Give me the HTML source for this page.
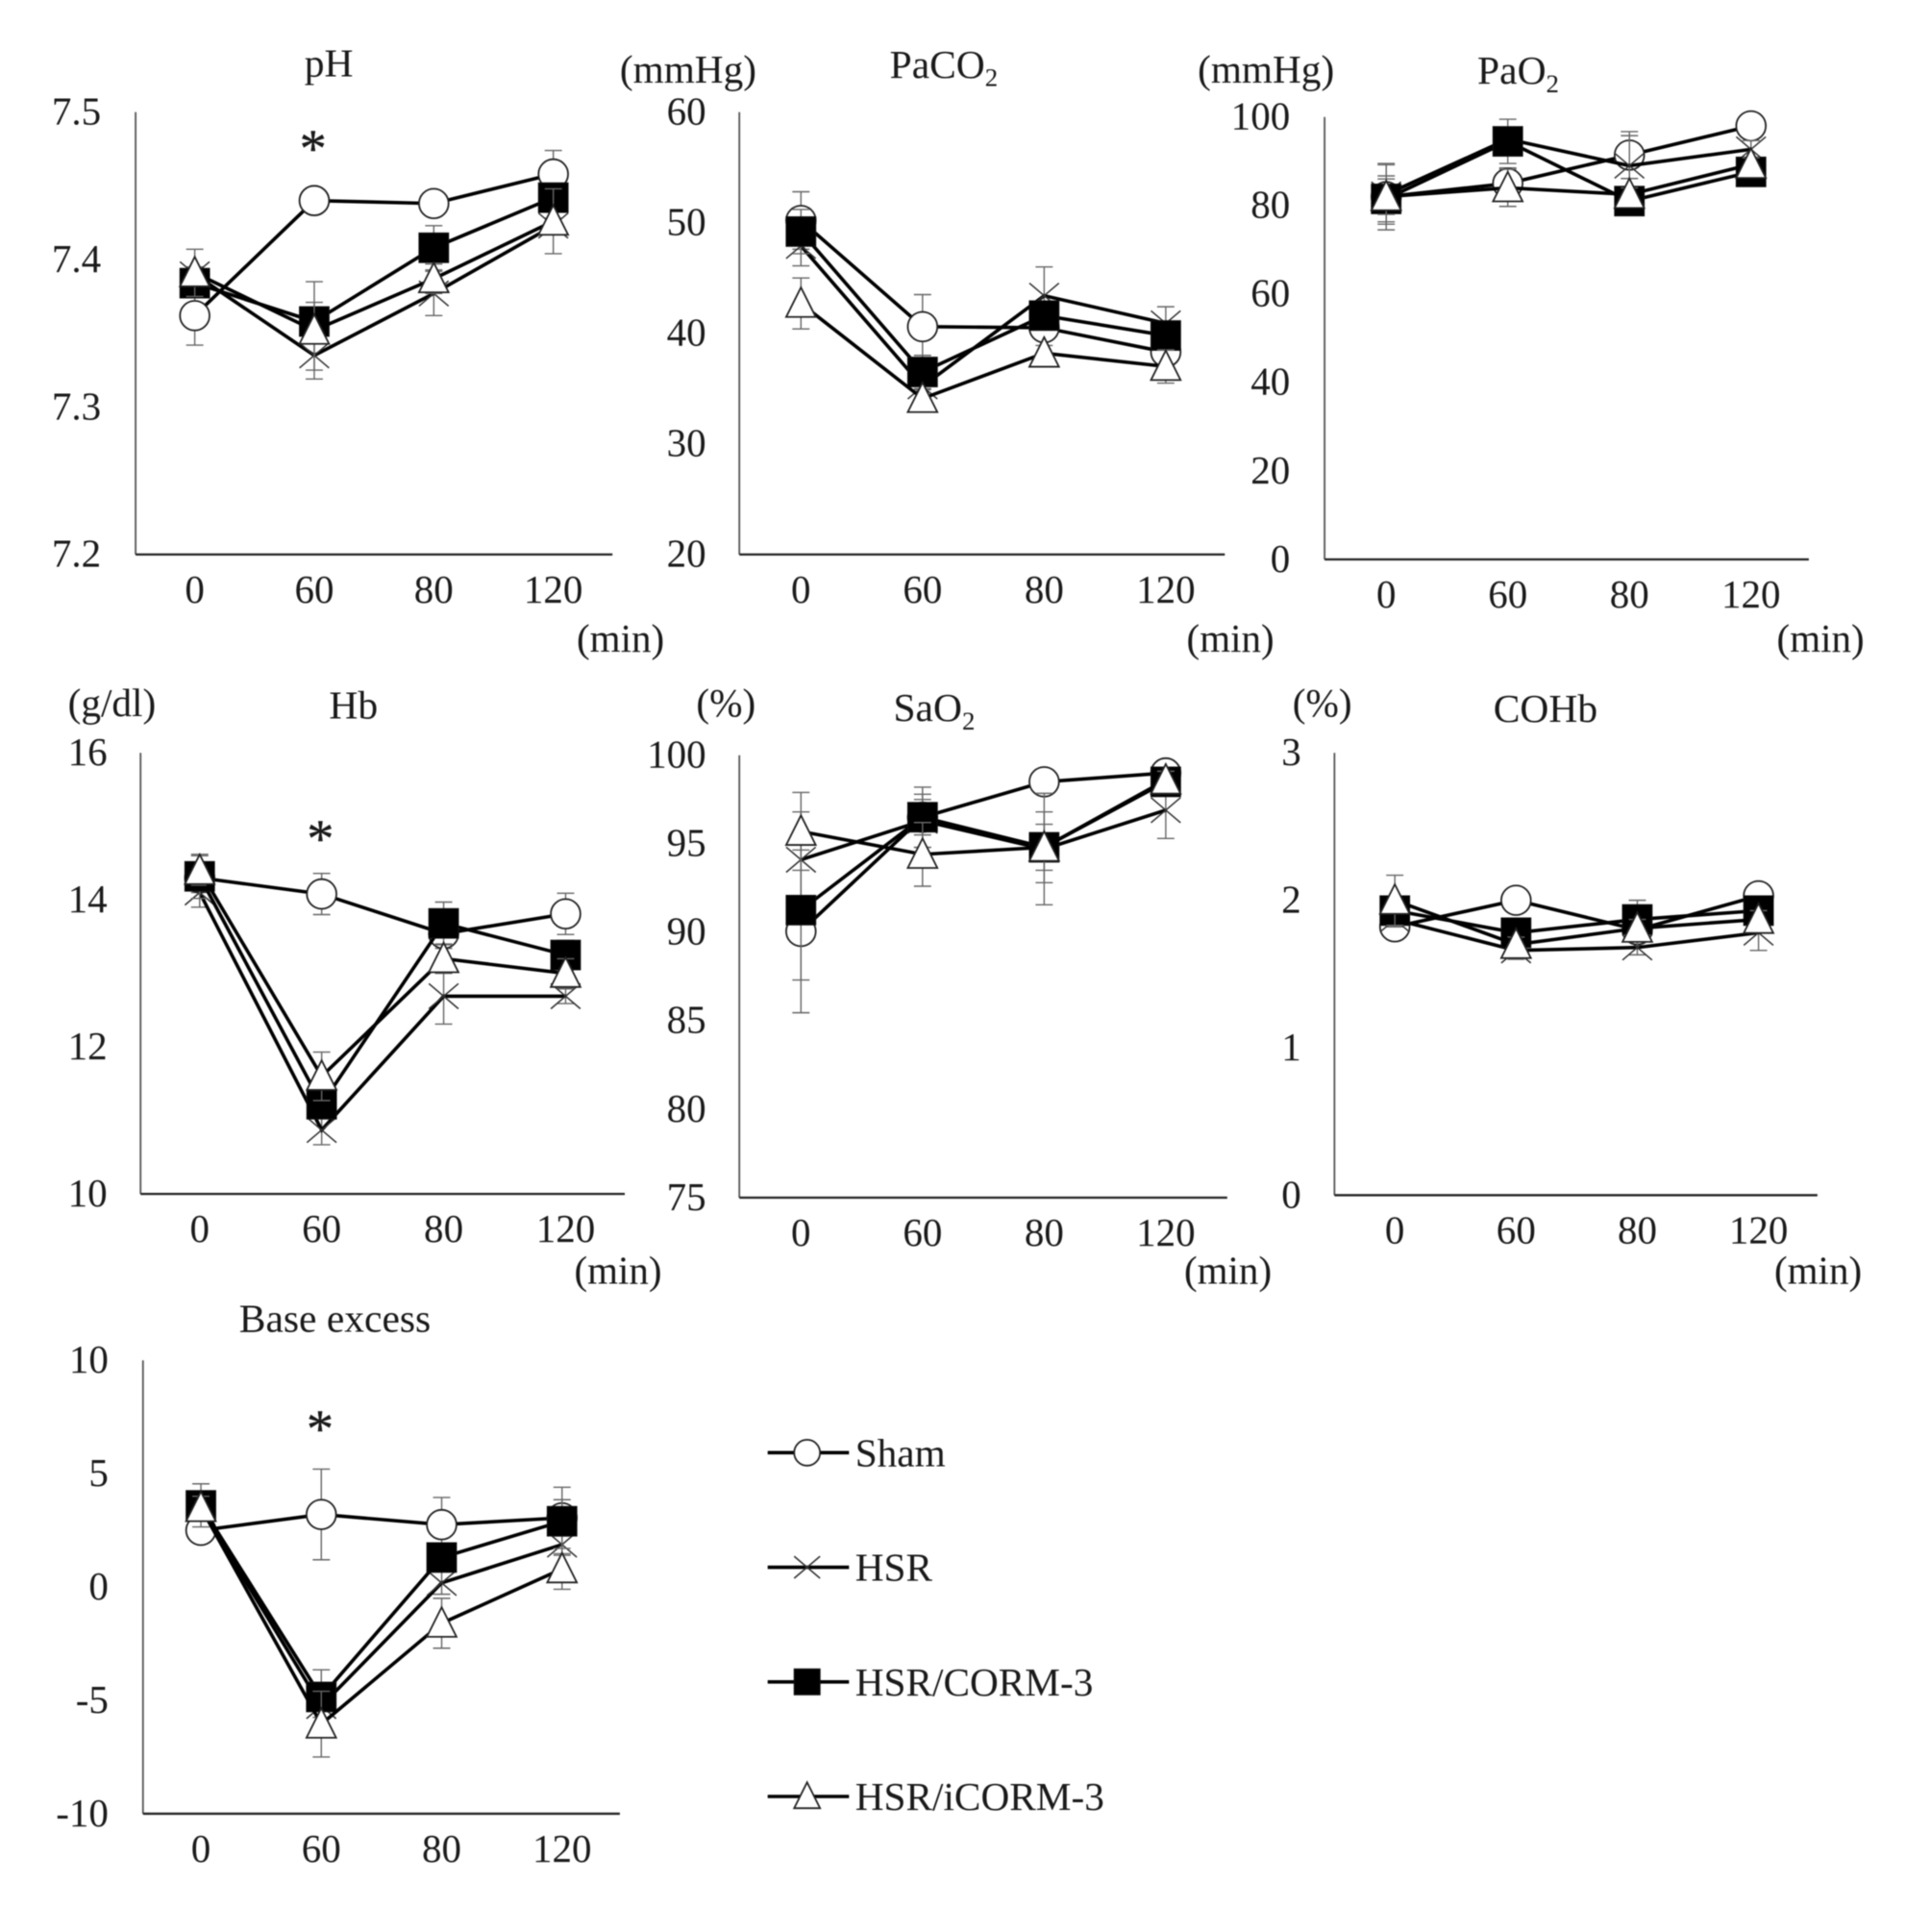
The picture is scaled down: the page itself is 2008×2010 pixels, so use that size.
<!DOCTYPE html>
<html lang="en">
<head>
<meta charset="utf-8">
<title>Blood gas time courses</title>
<style>
html,body{margin:0;padding:0;background:#fff;}
svg{display:block;filter:blur(0.6px);}
text{font-family:"Liberation Serif",serif;fill:#1a1a1a;}
</style>
</head>
<body>
<svg id="figure" xmlns="http://www.w3.org/2000/svg" width="2008" height="2010" viewBox="0 0 1566.3 1568">
<rect x="0" y="0" width="1566.3" height="1568" fill="#ffffff"></rect>
</svg>
<script>
const categories = ['0', '60', '80', '120'];
const seriesNames = ['Sham', 'HSR', 'HSR/CORM-3', 'HSR/iCORM-3'];

const phTicks = [7.2, 7.3, 7.4, 7.5];
const phSham = [7.362, 7.44, 7.438, 7.458];
const phHsr = [7.39, 7.335, 7.377, 7.423];
const phCorm = [7.384, 7.358, 7.408, 7.442];
const phIcorm = [7.391, 7.352, 7.387, 7.426];
const phShamErr = [0.02, 0.003, 0.008, 0.016];
const phHsrErr = [0.005, 0.01, 0.015, 0.005];
const phCormErr = [0.008, 0.013, 0.015, 0.006];
const phIcormErr = [0.016, 0.033, 0.01, 0.022];

const paco2Ticks = [20, 30, 40, 50, 60];
const paco2Sham = [50.2, 40.6, 40.5, 38.3];
const paco2Hsr = [47.9, 35.2, 43.4, 40.9];
const paco2Corm = [49.2, 36.5, 41.6, 39.8];
const paco2Icorm = [42.7, 34.1, 38.2, 37];
const paco2ShamErr = [2.6, 2.9, 0.8, 0.9];
const paco2HsrErr = [1.8, 1.2, 2.6, 1.5];
const paco2CormErr = [2, 1.5, 1.2, 1];
const paco2IcormErr = [2.3, 0.8, 0.7, 1.5];

const pao2Ticks = [0, 20, 40, 60, 80, 100];
const pao2Sham = [82, 85, 91.4, 98];
const pao2Hsr = [82.5, 95, 89, 92.7];
const pao2Corm = [81.5, 94.5, 81, 87.6];
const pao2Icorm = [82, 84, 82.5, 89.3];
const pao2ShamErr = [7.5, 3.5, 5.3, 1.5];
const pao2HsrErr = [6.7, 2, 6.8, 2];
const pao2CormErr = [5.2, 5, 1.5, 1.5];
const pao2IcormErr = [4, 4.2, 1.5, 1.5];

const hbTicks = [10, 12, 14, 16];
const hbSham = [14.3, 14.08, 13.54, 13.81];
const hbHsr = [14.1, 10.87, 12.69, 12.69];
const hbCorm = [14.32, 11.22, 13.68, 13.25];
const hbIcorm = [14.4, 11.6, 13.2, 13];
const hbShamErr = [0.2, 0.28, 0.2, 0.28];
const hbHsrErr = [0.2, 0.2, 0.38, 0.1];
const hbCormErr = [0.3, 0.15, 0.29, 0.2];
const hbIcormErr = [0.2, 0.33, 0.2, 0.2];

const sao2Ticks = [75, 80, 85, 90, 95, 100];
const sao2Sham = [90.05, 96.5, 98.5, 99];
const sao2Hsr = [94.1, 96.3, 94.7, 96.9];
const sao2Corm = [91.25, 96.5, 94.8, 98.5];
const sao2Icorm = [95.7, 94.4, 94.8, 98.6];
const sao2ShamErr = [4.6, 1, 0.4, 0.4];
const sao2HsrErr = [2.7, 1.5, 3.15, 1.6];
const sao2CormErr = [3.95, 1.7, 1.3, 0.6];
const sao2IcormErr = [2.2, 1.8, 2, 0.5];

const cohbTicks = [0, 1, 2, 3];
const cohbSham = [1.82, 2, 1.8, 2.03];
const cohbHsr = [1.87, 1.66, 1.68, 1.78];
const cohbCorm = [1.93, 1.78, 1.87, 1.93];
const cohbIcorm = [2, 1.7, 1.81, 1.87];
const cohbShamErr = [0.05, 0.06, 0.05, 0.05];
const cohbHsrErr = [0.05, 0.06, 0.05, 0.12];
const cohbCormErr = [0.06, 0.06, 0.13, 0.05];
const cohbIcormErr = [0.17, 0.05, 0.06, 0.06];

const beTicks = [-10, -5, 0, 5, 10];
const beSham = [2.5, 3.2, 2.75, 3.05];
const beHsr = [3.5, -5.25, 0.18, 1.87];
const beCorm = [3.6, -4.85, 1.3, 2.9];
const beIcorm = [3.5, -6.05, -1.6, 0.8];
const beShamErr = [0.4, 2, 1.2, 0.8];
const beHsrErr = [0.5, 0.5, 0.5, 0.4];
const beCormErr = [0.95, 1.2, 0.6, 1.5];
const beIcormErr = [0.5, 1.45, 1.1, 0.9];

const svgNS = 'http://www.w3.org/2000/svg';
const root = document.getElementById('figure');
const markerKinds = ['circle', 'cross', 'square', 'triangle'];
const seriesKeys = ['sham', 'hsr', 'corm', 'icorm'];

const panels = [
  {id:'ph', left:110, right:497, catStart:158, catStep:97, top:91, base:450, min:7.2, max:7.5, ticks:phTicks, decimals:1, labelRight:82,
   title:'pH', sub:'', titleX:247, titleY:62, unit:'', minX:468, minY:529, starY:117,
   values:[phSham, phHsr, phCorm, phIcorm], errors:[phShamErr, phHsrErr, phCormErr, phIcormErr]},
  {id:'paco2', left:600, right:994, catStart:650, catStep:98.7, top:91, base:450, min:20, max:60, ticks:paco2Ticks, decimals:0, labelRight:573,
   title:'PaCO', sub:'2', titleX:722, titleY:63, unit:'(mmHg)', unitX:503, unitY:67, minX:963, minY:529,
   values:[paco2Sham, paco2Hsr, paco2Corm, paco2Icorm], errors:[paco2ShamErr, paco2HsrErr, paco2CormErr, paco2IcormErr]},
  {id:'pao2', left:1075, right:1468, catStart:1125, catStep:98.7, top:95, base:454, min:0, max:100, ticks:pao2Ticks, decimals:0, labelRight:1047,
   title:'PaO', sub:'2', titleX:1199, titleY:68, unit:'(mmHg)', unitX:972, unitY:67, minX:1442, minY:529,
   values:[pao2Sham, pao2Hsr, pao2Corm, pao2Icorm], errors:[pao2ShamErr, pao2HsrErr, pao2CormErr, pao2IcormErr]},
  {id:'hb', left:114, right:507, catStart:162, catStep:99, top:611, base:969, min:10, max:16, ticks:hbTicks, decimals:0, labelRight:87,
   title:'Hb', sub:'', titleX:267, titleY:583, unit:'(g/dl)', unitX:55, unitY:581, minX:466, minY:1042, starY:677,
   values:[hbSham, hbHsr, hbCorm, hbIcorm], errors:[hbShamErr, hbHsrErr, hbCormErr, hbIcormErr]},
  {id:'sao2', left:600, right:996, catStart:650, catStep:98.7, top:613, base:972, min:75, max:100, ticks:sao2Ticks, decimals:0, labelRight:573,
   title:'SaO', sub:'2', titleX:725, titleY:585, unit:'(%)', unitX:565, unitY:581, minX:961, minY:1042,
   values:[sao2Sham, sao2Hsr, sao2Corm, sao2Icorm], errors:[sao2ShamErr, sao2HsrErr, sao2CormErr, sao2IcormErr]},
  {id:'cohb', left:1083, right:1475, catStart:1132, catStep:98.4, top:611, base:970, min:0, max:3, ticks:cohbTicks, decimals:0, labelRight:1056,
   title:'COHb', sub:'', titleX:1212, titleY:586, unit:'(%)', unitX:1049, unitY:581, minX:1440, minY:1042,
   values:[cohbSham, cohbHsr, cohbCorm, cohbIcorm], errors:[cohbShamErr, cohbHsrErr, cohbCormErr, cohbIcormErr]},
  {id:'base-excess', left:116, right:503, catStart:163, catStep:97.7, top:1104, base:1472, min:-10, max:10, ticks:beTicks, decimals:0, labelRight:88,
   title:'Base excess', sub:'', titleX:194, titleY:1081, unit:'', starY:1156,
   values:[beSham, beHsr, beCorm, beIcorm], errors:[beShamErr, beHsrErr, beCormErr, beIcormErr]}
];

function make(tag, attrs, parent) {
  const el = document.createElementNS(svgNS, tag);
  Object.keys(attrs).forEach(function (k) { el.setAttribute(k, attrs[k]); });
  parent.appendChild(el);
  return el;
}

function drawMarker(parent, kind, cx, cy, size) {
  const h = size / 2;
  let el;
  if (kind === 'circle') {
    el = make('circle', {cx: cx, cy: cy, r: h, fill: '#fff', stroke: '#222', 'stroke-width': 1.4}, parent);
  } else if (kind === 'square') {
    el = make('rect', {x: cx - h, y: cy - h, width: size, height: size, fill: '#000', stroke: '#111', 'stroke-width': 0.8}, parent);
  } else if (kind === 'triangle') {
    const pts = (cx) + ',' + (cy - h - 1) + ' ' + (cx + h) + ',' + (cy + h - 1) + ' ' + (cx - h) + ',' + (cy + h - 1);
    el = make('polygon', {points: pts, fill: '#fff', stroke: '#222', 'stroke-width': 1.4}, parent);
  } else {
    const d = 'M' + (cx - h) + ' ' + (cy - h * 0.85) + 'L' + (cx + h) + ' ' + (cy + h * 0.85) +
              'M' + (cx + h) + ' ' + (cy - h * 0.85) + 'L' + (cx - h) + ' ' + (cy + h * 0.85);
    el = make('path', {d: d, fill: 'none', stroke: '#333', 'stroke-width': 1.2}, parent);
  }
  return el;
}

function drawPanel(p) {
  const g = make('g', {}, root);
  
  

  const scaleX = function (i) { return p.catStart + i * p.catStep; };
  const scaleY = function (v) { return p.base - (v - p.min) / (p.max - p.min) * (p.base - p.top); };

  const yAxis = make('line', {x1: p.left, y1: p.top, x2: p.left, y2: p.base, stroke: '#555', 'stroke-width': 1.4}, g);
  
  
  const xAxis = make('line', {x1: p.left, y1: p.base, x2: p.right, y2: p.base, stroke: '#222', 'stroke-width': 1.8}, g);
  
  

  p.ticks.forEach(function (t) {
    const label = make('text', {x: p.labelRight, y: scaleY(t) + 10, 'text-anchor': 'end', 'font-size': 32}, g);
    
    
    label.textContent = t.toFixed(p.decimals);
  });
  categories.forEach(function (c, i) {
    const label = make('text', {x: scaleX(i), y: p.base + 39, 'text-anchor': 'middle', 'font-size': 32}, g);
    
    
    label.textContent = c;
  });

  const title = make('text', {x: p.titleX, y: p.titleY, 'font-size': 32.4}, g);
  
  
  title.appendChild(document.createTextNode(p.title));
  if (p.sub) {
    const sub = make('tspan', {'font-size': 21, dy: 7}, title);
    sub.textContent = p.sub;
  }
  if (p.unit) {
    const unit = make('text', {x: p.unitX, y: p.unitY, 'font-size': 32.2}, g);
    
    
    unit.textContent = p.unit;
  }
  if (p.minX) {
    const minLabel = make('text', {x: p.minX, y: p.minY, 'font-size': 32}, g);
    
    
    minLabel.textContent = '(min)';
  }
  if (p.starY) {
    const star = make('text', {x: scaleX(1) - 1, y: p.starY + 18, 'text-anchor': 'middle', 'font-size': 44, stroke: '#1a1a1a', 'stroke-width': 0.3}, g);
    
    
    star.textContent = '*';
  }

  p.values.forEach(function (vals, s) {
    const errs = p.errors[s];
    const sg = make('g', {}, g);
    
    

    vals.forEach(function (v, i) {
      const x = scaleX(i);
      const hi = scaleY(v + errs[i]);
      const lo = scaleY(v - errs[i]);
      const d = 'M' + x + ' ' + hi + 'L' + x + ' ' + lo +
                'M' + (x - 7) + ' ' + hi + 'L' + (x + 7) + ' ' + hi +
                'M' + (x - 7) + ' ' + lo + 'L' + (x + 7) + ' ' + lo;
      const bar = make('path', {d: d, fill: 'none', stroke: '#666', 'stroke-width': 1.1}, sg);
      
      
    });

    const pts = vals.map(function (v, i) { return scaleX(i) + ',' + scaleY(v); }).join(' ');
    const line = make('polyline', {points: pts, fill: 'none', stroke: '#000', 'stroke-width': 2.8}, sg);
    
    

    vals.forEach(function (v, i) {
      const m = drawMarker(sg, markerKinds[s], scaleX(i), scaleY(v), 24);
      
      
    });
  });
}

panels.forEach(drawPanel);

const legend = make('g', {}, root);


seriesNames.forEach(function (name, s) {
  const y = 1179 + s * 93;
  const entry = make('g', {}, legend);
  
  
  const sw = make('line', {x1: 623, y1: y, x2: 689, y2: y, stroke: '#000', 'stroke-width': 2.8}, entry);
  
  
  const mk = drawMarker(entry, markerKinds[s], 655, y, 21);
  
  
  const label = make('text', {x: 694, y: y + 11, 'font-size': 32.2}, entry);
  
  
  label.textContent = name;
});
</script>
</body>
</html>
